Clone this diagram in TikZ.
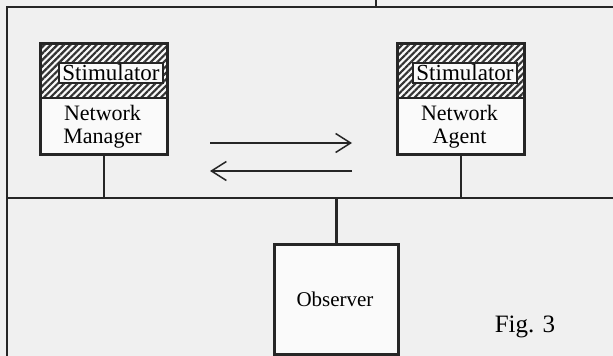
\documentclass[tikz,border=0pt]{standalone}
\usepackage{fontspec}
\setmainfont{Liberation Serif}
\usetikzlibrary{patterns.meta,arrows.meta}
\begin{document}
\begin{tikzpicture}[x=1pt,y=-1pt,
  ink/.style={draw=black!85},
  unitbox/.style={ink, line width=2.8pt, fill=black!2, minimum width=127pt, minimum height=111pt, anchor=north west, inner sep=0pt},
  hatchfill/.style={pattern={Lines[angle=45,distance=4.6pt,line width=2.2pt]}, pattern color=black!80},
  stimbox/.style={ink, line width=2pt, fill=black!2, minimum width=104pt, minimum height=20pt, inner sep=0pt, font=\fontsize{23}{26}\selectfont},
  unitlabel/.style={align=center, font=\fontsize{22}{23}\selectfont, inner sep=0pt},
  wire/.style={ink, line width=2.4pt},
  msg/.style={ink, line width=1.5pt, -{Straight Barb[length=15pt, width=19pt, line width=1.5pt]}}
]
\useasboundingbox (0,0) rectangle (613,356);
\fill[black!6] (0,0) rectangle (613,356);

% frame
\coordinate (fTL) at (7,7);
\coordinate (fBL) at (7,356);
\coordinate (fTR) at (613,7);
\coordinate (topA) at (376,0);
\coordinate (topB) at (376,7);
\draw[ink, line width=2pt] (fBL) -- (fTL) -- (fTR);
\draw[ink, line width=2pt] (topA) -- (topB);

% Network Manager
\node[unitbox] (mgr) at (39,42) {};
\fill[hatchfill] (39,42) rectangle (166,98);
\draw[ink, line width=2.6pt] (39,98) -- (166,98);
\node[unitbox, fill=none] at (39,42) {};
\node[stimbox] (mgrstim) at (111,73) {Stimulator};
\node[unitlabel] (mgrlab) at (102.5,127) {Network\\Manager};

% Network Agent
\node[unitbox] (agt) at (396,42) {};
\fill[hatchfill] (396,42) rectangle (523,98);
\draw[ink, line width=2.6pt] (396,98) -- (523,98);
\node[unitbox, fill=none] at (396,42) {};
\node[stimbox] (agtstim) at (465,73) {Stimulator};
\node[unitlabel] (agtlab) at (459.5,127) {Network\\Agent};

% bus
\coordinate (busL) at (7,198);
\coordinate (busR) at (613,198);
\draw[ink, line width=2.8pt] (busL) -- (busR);
\draw[wire] (mgr.south) -- (mgr.south |- busL);
\draw[wire] (agt.south) -- (agt.south |- busL);

% Observer
\node[ink, line width=2.8pt, fill=black!2, minimum width=124pt, minimum height=110pt, anchor=north west, inner sep=0pt] (obs) at (273,243) {};
\node[font=\fontsize{21}{24}\selectfont, inner sep=0pt] (obslab) at (335,299) {Observer};
\draw[wire] (obs.north) -- (obs.north |- busL);

% messages
\coordinate (m1a) at (210,143);
\coordinate (m1b) at (352,143);
\coordinate (m2a) at (352,171);
\coordinate (m2b) at (210,171);
\draw[msg] (m1a) -- (m1b);
\draw[msg] (m2a) -- (m2b);

% caption
\node[font=\fontsize{25}{28}\selectfont, inner sep=0pt] (fig) at (525,327) {Fig. 3};
\end{tikzpicture}
\end{document}
